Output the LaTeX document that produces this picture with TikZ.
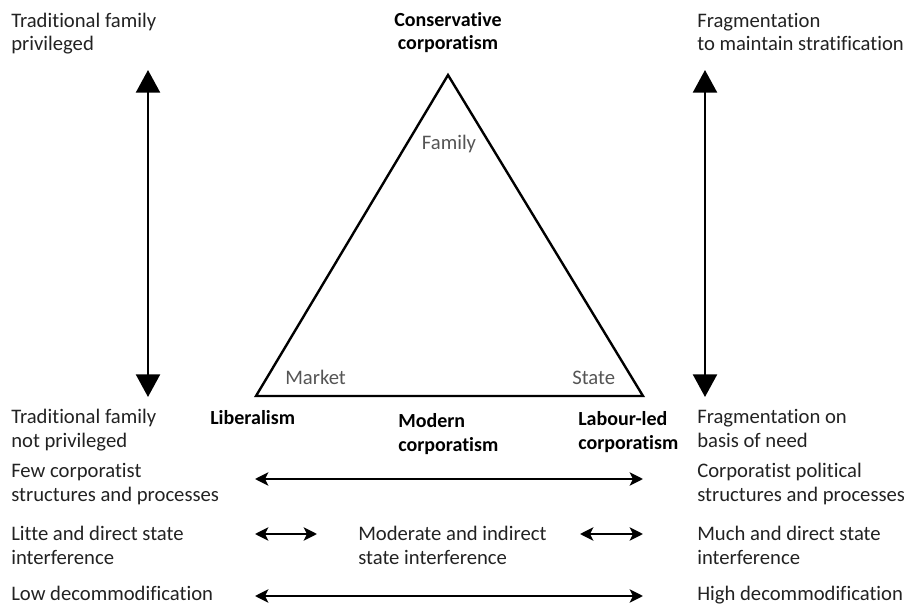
\documentclass[tikz,border=0pt]{standalone}
\usepackage{fontspec}
\setmainfont{Carlito}[RawFeature=-liga]
\usetikzlibrary{arrows.meta}
\definecolor{txt}{HTML}{222222}
\definecolor{inner}{HTML}{555555}
\begin{document}
\begin{tikzpicture}[x=0.75pt,y=-0.75pt,
  % two-line labels are placed by the baseline of their last line
  txtlbl/.style={anchor=base west,inner sep=0pt,align=left,text=txt,
    font=\fontsize{15.5pt}{17.5pt}\selectfont},
  boldlbl/.style={txtlbl,font=\fontsize{15pt}{17.5pt}\selectfont\bfseries,text=black},
  cornerlbl/.style={anchor=base,inner sep=0pt,text=inner,
    font=\fontsize{15.5pt}{17.5pt}\selectfont},
  vertarrow/.style={line width=1.8pt,{Triangle[length=17pt,width=18pt]}-{Triangle[length=17pt,width=18pt]}},
  spanarrow/.style={line width=1.8pt,{Stealth[length=10pt,width=10pt,inset=2.5pt]}-{Stealth[length=10pt,width=10pt,inset=2.5pt]}}]
\useasboundingbox (0,0) rectangle (904,606);

% triangle of welfare sources
\coordinate (apex) at (448,75);
\coordinate (bl) at (256,396);
\coordinate (br) at (643,396);
\draw[line width=1.8pt,line join=miter] (apex) -- (bl) -- (br) -- cycle;
\node[cornerlbl] (family) at (449,150) {Family};
\node[cornerlbl,anchor=base west] (market) at (285,384) {Market};
\node[cornerlbl,anchor=base west] (state) at (572,384) {State};

% top labels
\node[txtlbl] (tfp) at (11,51) {Traditional family\\privileged};
\node[boldlbl,anchor=base,align=center] (cons) at (448,50) {Conservative\\corporatism};
\node[txtlbl] (fms) at (697,51) {Fragmentation\\to maintain stratification};

% vertical axes
\coordinate (la-top) at (148,70);
\coordinate (la-bot) at (148,397);
\coordinate (ra-top) at (705,70);
\coordinate (ra-bot) at (705,397);
\draw[vertarrow] (la-top) -- (la-bot);
\draw[vertarrow] (ra-top) -- (ra-bot);

% regime labels
\node[txtlbl] (tfnp) at (11,447) {Traditional family\\not privileged};
\node[boldlbl] (lib) at (210,424) {Liberalism};
\node[boldlbl] (mod) at (398,451) {Modern\\corporatism};
\node[boldlbl] (lab) at (578,449) {Labour-led\\corporatism};
\node[txtlbl] (fbn) at (697,447) {Fragmentation on\\basis of need};

% corporatist structures
\node[txtlbl] (few) at (11,501) {Few corporatist\\structures and processes};
\node[txtlbl] (cps) at (697,501) {Corporatist political\\structures and processes};
\coordinate (s1l) at (255,479);
\coordinate (s1r) at (643,479);
\draw[spanarrow] (s1l) -- (s1r);

% state interference
\node[txtlbl] (lit) at (11,564) {Litte and direct state\\interference};
\node[txtlbl] (modi) at (358,564) {Moderate and indirect\\state interference};
\node[txtlbl] (much) at (697,564) {Much and direct state\\interference};
\coordinate (s2a) at (255,534);
\coordinate (s2b) at (317,534);
\coordinate (s2c) at (580,534);
\coordinate (s2d) at (643,534);
\draw[spanarrow] (s2a) -- (s2b);
\draw[spanarrow] (s2c) -- (s2d);

% decommodification
\node[txtlbl] (low) at (11,600) {Low decommodification};
\node[txtlbl] (high) at (697,600) {High decommodification};
\coordinate (s3l) at (255,596);
\coordinate (s3r) at (643,596);
\draw[spanarrow] (s3l) -- (s3r);
\end{tikzpicture}
\end{document}
